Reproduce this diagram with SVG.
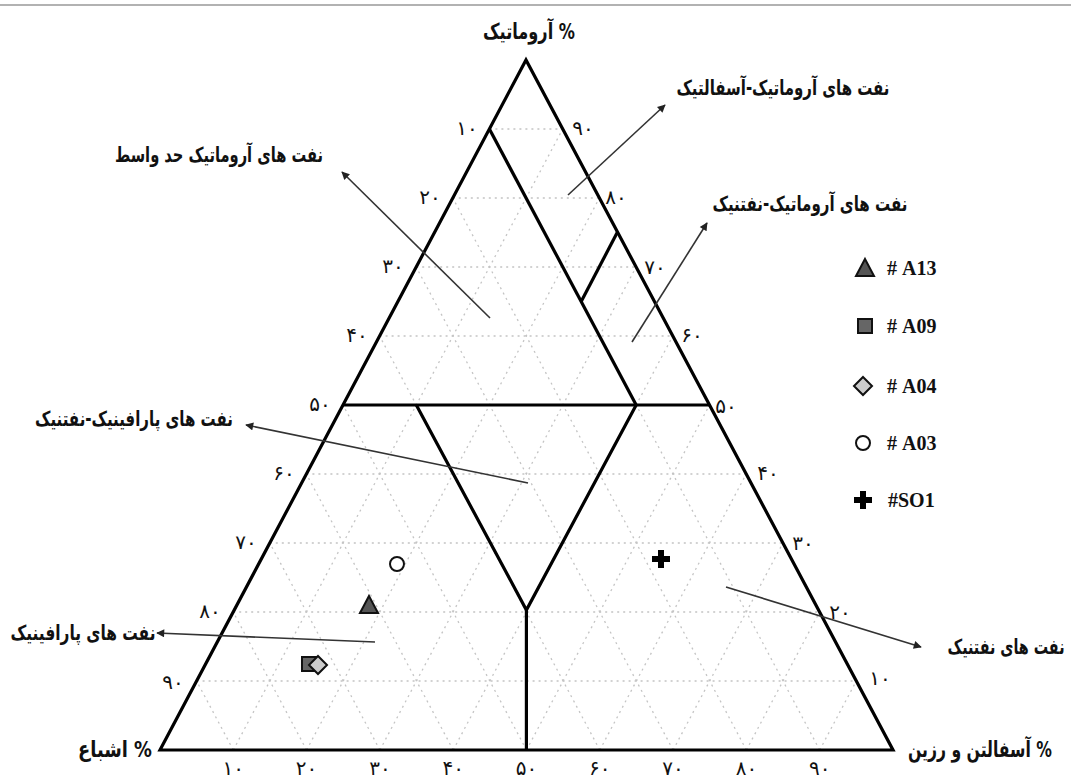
<svg xmlns="http://www.w3.org/2000/svg" width="1071" height="778" viewBox="0 0 1071 778">
<defs>
<style>
.grid{stroke:#c4c4c4;stroke-width:1.3;stroke-dasharray:2 4;fill:none}
.thick{stroke:#000;stroke-width:3.2;fill:none;stroke-linejoin:miter}
.arr{stroke:#333;stroke-width:1.6;fill:none}
.fa{font-family:"DejaVu Sans",sans-serif;font-weight:bold;font-size:21px;fill:#111}
.ttl{font-family:"DejaVu Sans",sans-serif;font-weight:bold;font-size:22px;fill:#111}
.num{font-family:"DejaVu Sans",sans-serif;font-size:20px;fill:#111}
.leg{font-family:"Liberation Serif",serif;font-weight:bold;font-size:20px;fill:#111}
.sym{stroke:#111;stroke-width:2}
</style>
<marker id="ah" viewBox="0 0 10 10" refX="9" refY="5" markerWidth="10" markerHeight="8" markerUnits="userSpaceOnUse" orient="auto">
<path d="M0,0 L10,5 L0,10 Z" fill="#222"/>
</marker>
</defs>
<rect width="1071" height="778" fill="#fff"/>
<line x1="0" y1="5" x2="1071" y2="5" stroke="#999" stroke-width="1.5"/>

<g id="grid" class="grid">
<line x1="489.4" y1="129" x2="562.7" y2="129"/>
<line x1="452.8" y1="198" x2="599.4" y2="198"/>
<line x1="416.2" y1="267" x2="636.1" y2="267"/>
<line x1="379.6" y1="336" x2="672.8" y2="336"/>
<line x1="343" y1="405" x2="709.5" y2="405"/>
<line x1="306.4" y1="474" x2="746.2" y2="474"/>
<line x1="269.8" y1="543" x2="782.9" y2="543"/>
<line x1="233.2" y1="612" x2="819.6" y2="612"/>
<line x1="196.6" y1="681" x2="856.3" y2="681"/>
<line x1="233.3" y1="750" x2="562.7" y2="129"/>
<line x1="306.6" y1="750" x2="599.4" y2="198"/>
<line x1="379.9" y1="750" x2="636.1" y2="267"/>
<line x1="453.2" y1="750" x2="672.8" y2="336"/>
<line x1="526.5" y1="750" x2="709.5" y2="405"/>
<line x1="599.8" y1="750" x2="746.2" y2="474"/>
<line x1="673.1" y1="750" x2="782.9" y2="543"/>
<line x1="746.4" y1="750" x2="819.6" y2="612"/>
<line x1="819.7" y1="750" x2="856.3" y2="681"/>
<line x1="819.7" y1="750" x2="489.4" y2="129"/>
<line x1="746.4" y1="750" x2="452.8" y2="198"/>
<line x1="673.1" y1="750" x2="416.2" y2="267"/>
<line x1="599.8" y1="750" x2="379.6" y2="336"/>
<line x1="526.5" y1="750" x2="343" y2="405"/>
<line x1="453.2" y1="750" x2="306.4" y2="474"/>
<line x1="379.9" y1="750" x2="269.8" y2="543"/>
<line x1="306.6" y1="750" x2="233.2" y2="612"/>
<line x1="233.3" y1="750" x2="196.6" y2="681"/>
</g>

<g id="fields" class="thick">
<path d="M160,750 L526,60 L893,750 Z"/>
<line x1="489.4" y1="129" x2="636.2" y2="405"/>
<line x1="617.5" y1="232" x2="581.2" y2="301.5"/>
<line x1="343" y1="405" x2="709.5" y2="405"/>
<path d="M416.3,405 L526.4,610 L636.2,405"/>
<line x1="526.4" y1="610" x2="526.4" y2="750"/>
</g>

<g id="ticks" class="num" text-anchor="middle">
<text x="467" y="135">۱۰</text>
<text x="430" y="204">۲۰</text>
<text x="393" y="273">۳۰</text>
<text x="357" y="342">۴۰</text>
<text x="320" y="411">۵۰</text>
<text x="284" y="480">۶۰</text>
<text x="246" y="549">۷۰</text>
<text x="210" y="618">۸۰</text>
<text x="173" y="689">۹۰</text>
<text x="583" y="135">۹۰</text>
<text x="616" y="204">۸۰</text>
<text x="655" y="274">۷۰</text>
<text x="692" y="342">۶۰</text>
<text x="726" y="413">۵۰</text>
<text x="768" y="480">۴۰</text>
<text x="803" y="550">۳۰</text>
<text x="840" y="619">۲۰</text>
<text x="880" y="685">۱۰</text>
<text x="233.3" y="775">۱۰</text>
<text x="306.6" y="775">۲۰</text>
<text x="379.9" y="775">۳۰</text>
<text x="453.2" y="775">۴۰</text>
<text x="526.5" y="775">۵۰</text>
<text x="599.8" y="775">۶۰</text>
<text x="673.1" y="775">۷۰</text>
<text x="746.4" y="775">۸۰</text>
<text x="819.7" y="775">۹۰</text>
</g>

<g id="axis-titles" class="ttl" direction="rtl" text-anchor="middle">
<text id="axis-aromatic" x="529" y="39" textLength="92" lengthAdjust="spacingAndGlyphs">% آروماتیک</text>
<text id="axis-saturate" x="115" y="757" textLength="74" lengthAdjust="spacingAndGlyphs">% اشباع</text>
<text id="axis-asphaltene" x="980" y="757" textLength="144" lengthAdjust="spacingAndGlyphs">% آسفالتن و رزین</text>
</g>

<g id="connectors" class="arr">
<line x1="568" y1="195" x2="665" y2="105" marker-end="url(#ah)"/>
<line x1="490" y1="318" x2="342" y2="172" marker-end="url(#ah)"/>
<line x1="632" y1="342" x2="707" y2="223" marker-end="url(#ah)"/>
<line x1="528" y1="483" x2="246" y2="425" marker-end="url(#ah)"/>
<line x1="375" y1="642" x2="157" y2="633" marker-end="url(#ah)"/>
<line x1="726" y1="587" x2="921" y2="647" marker-end="url(#ah)"/>
</g>

<g class="fa" direction="rtl" text-anchor="middle">
<g id="lbl-aro-asph"><text x="783" y="95" textLength="213" lengthAdjust="spacingAndGlyphs">نفت های آروماتیک-آسفالتیک</text></g>
<g id="lbl-aro-inter"><text x="219" y="162" textLength="208" lengthAdjust="spacingAndGlyphs">نفت های آروماتیک حد واسط</text></g>
<g id="lbl-aro-naph"><text x="810" y="211" textLength="195" lengthAdjust="spacingAndGlyphs">نفت های آروماتیک-نفتنیک</text></g>
<g id="lbl-par-naph"><text x="134" y="426" textLength="198" lengthAdjust="spacingAndGlyphs">نفت های پارافینیک-نفتنیک</text></g>
<g id="lbl-par"><text x="83" y="640" textLength="145" lengthAdjust="spacingAndGlyphs">نفت های پارافینیک</text></g>
<g id="lbl-naph"><text x="1006" y="654" textLength="117" lengthAdjust="spacingAndGlyphs">نفت های نفتنیک</text></g>
</g>

<g id="pt-A03"><circle cx="397" cy="564" r="7" fill="#fff" class="sym" stroke-width="2.4"/></g>
<g id="pt-A13"><path d="M369,596 L378,613 L360,613 Z" fill="#555" class="sym" stroke-width="1.6"/></g>
<g id="pt-A09"><rect x="302" y="657" width="14" height="14" fill="#666" class="sym" stroke-width="1.8"/></g>
<g id="pt-A04"><path d="M318,656 L327,665 L318,674 L309,665 Z" fill="#ccc" class="sym" stroke-width="1.8"/></g>
<g id="pt-SO1"><path d="M658,550 h6 v6 h6 v6 h-6 v6 h-6 v-6 h-6 v-6 h6 Z" fill="#000"/></g>

<g id="legend">
<g id="leg-A13"><path d="M865,259 L874,276 L856,276 Z" fill="#555" class="sym" stroke-width="1.6"/><text class="leg" x="887" y="275">#&#160;A13</text></g>
<g id="leg-A09"><rect x="858" y="319" width="14" height="14" fill="#666" class="sym" stroke-width="1.8"/><text class="leg" x="887" y="333">#&#160;A09</text></g>
<g id="leg-A04"><path d="M863,377 L872,386 L863,395 L854,386 Z" fill="#ccc" class="sym" stroke-width="1.8"/><text class="leg" x="887" y="393">#&#160;A04</text></g>
<g id="leg-A03"><circle cx="863" cy="443" r="7" fill="#fff" class="sym" stroke-width="2.4"/><text class="leg" x="887" y="450">#&#160;A03</text></g>
<g id="leg-SO1"><path d="M860,491 h6 v6 h6 v6 h-6 v6 h-6 v-6 h-6 v-6 h6 Z" fill="#000"/><text class="leg" x="888" y="507">#SO1</text></g>
</g>
</svg>
